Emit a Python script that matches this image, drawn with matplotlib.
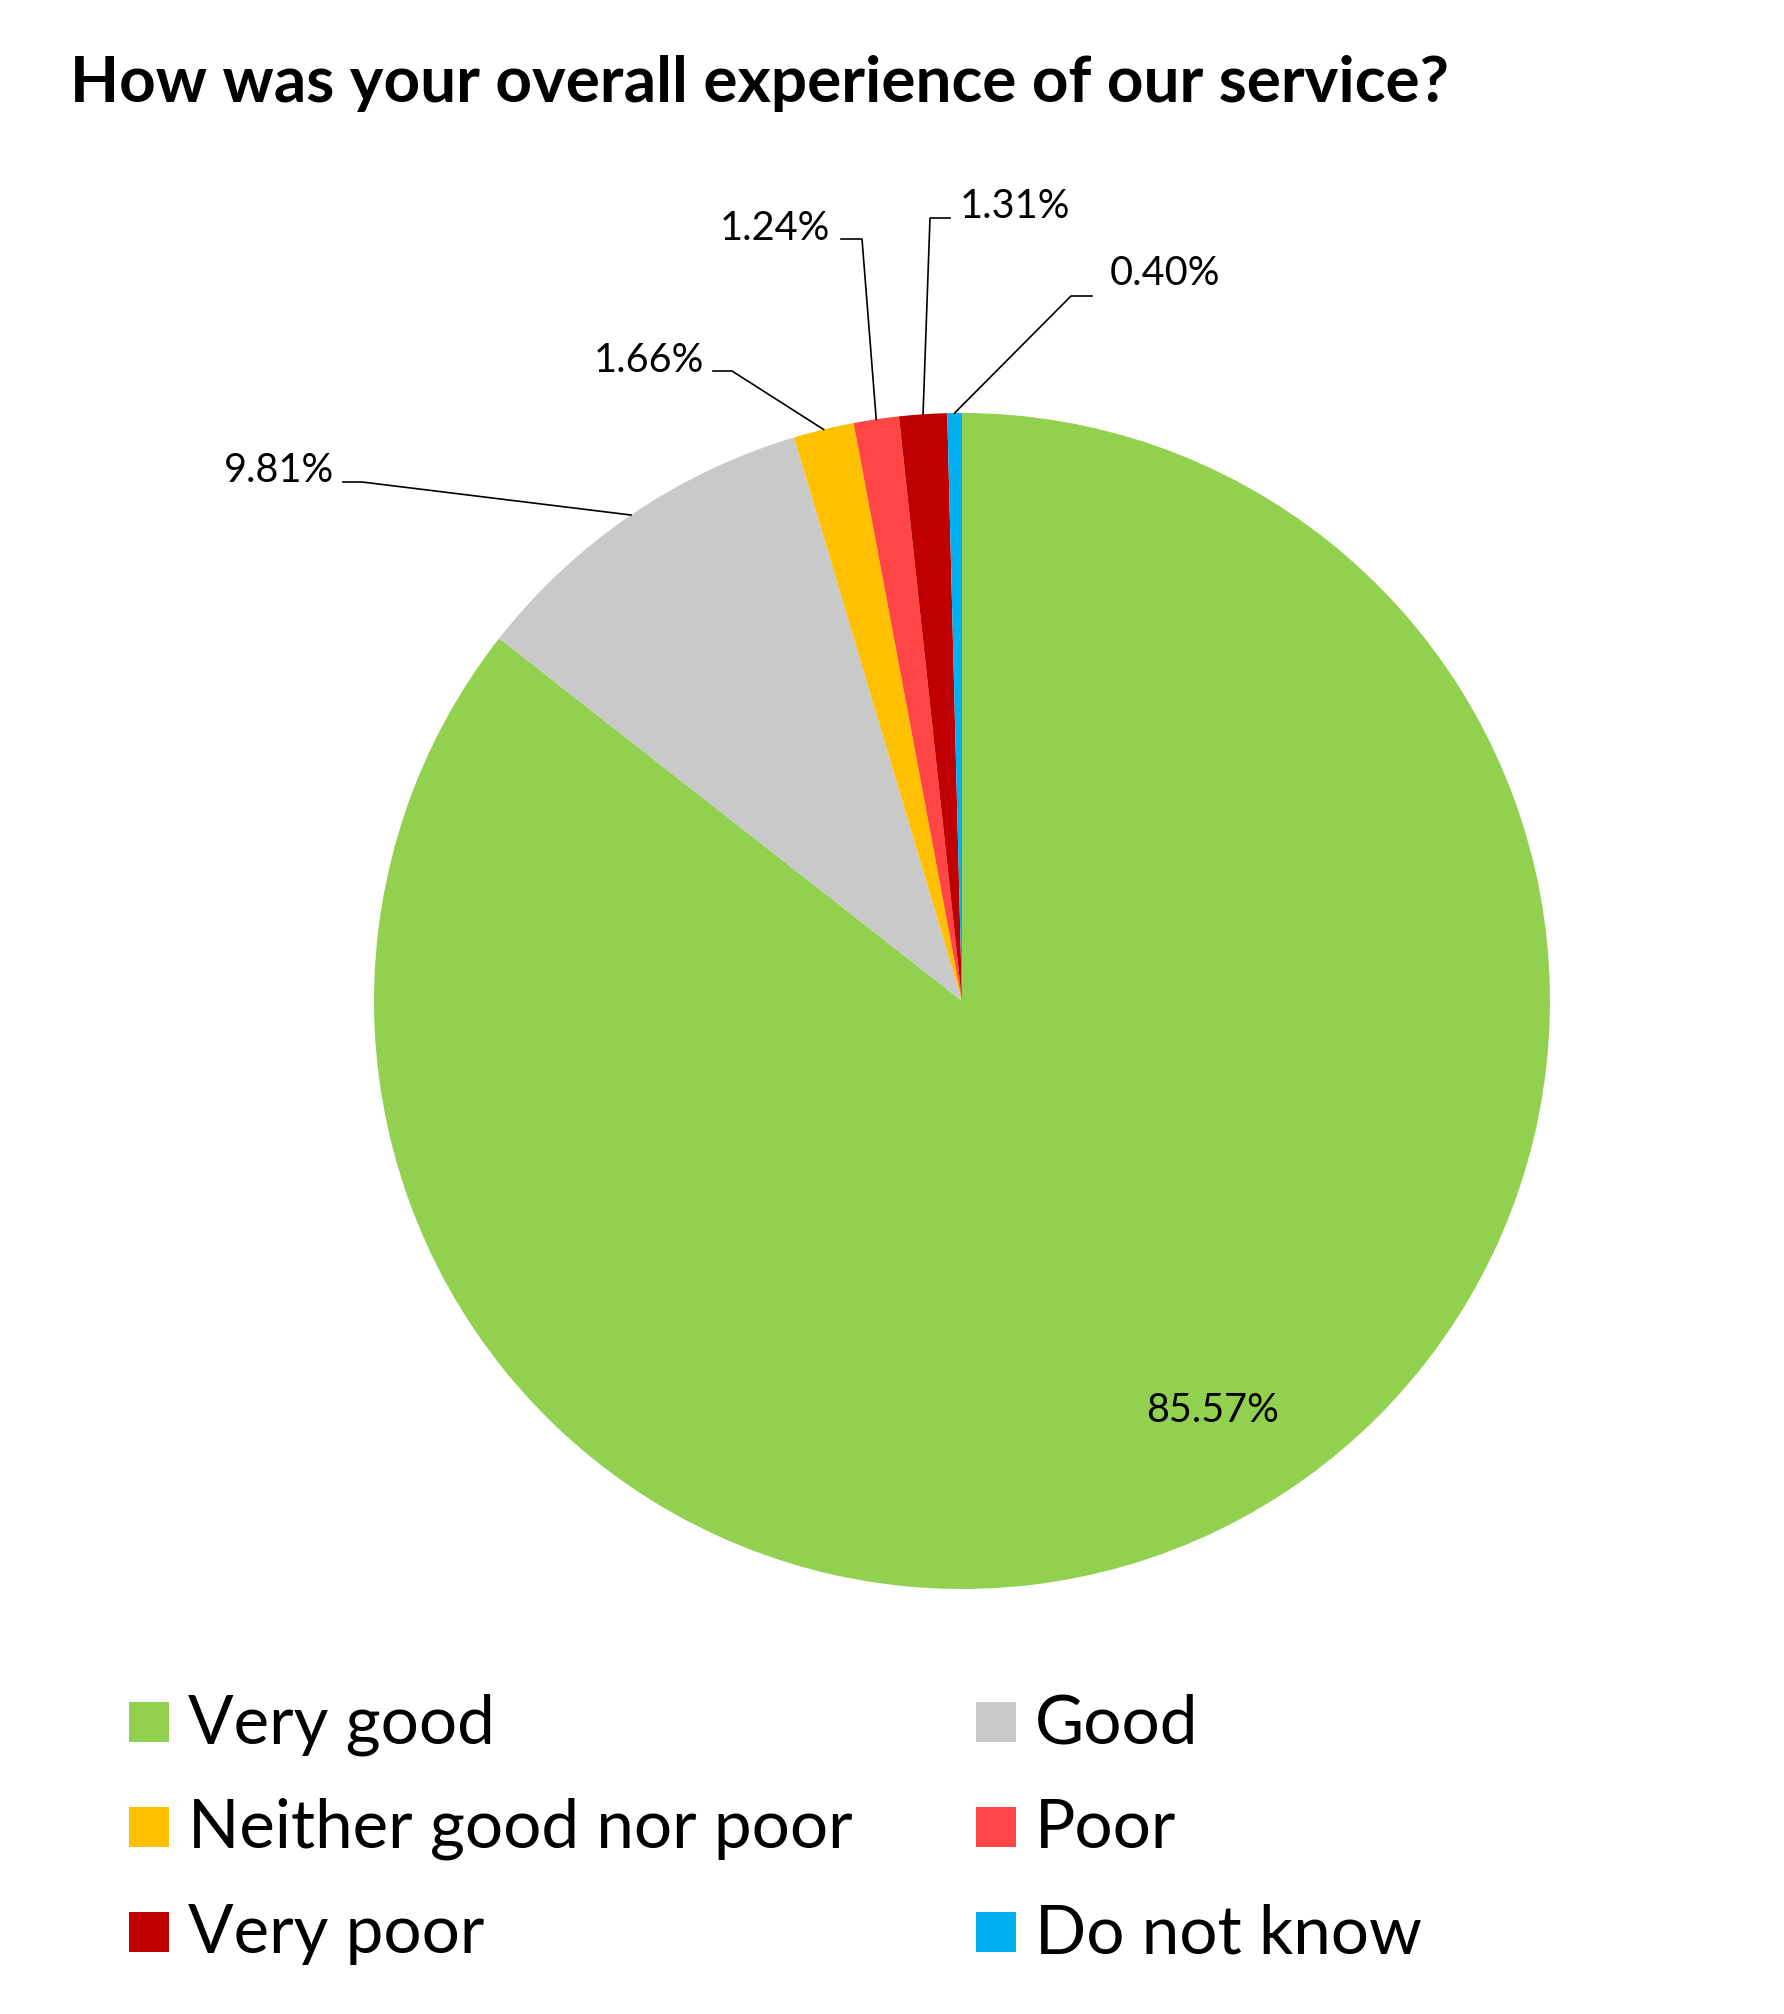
import numpy as np
import matplotlib.pyplot as plt
from matplotlib.patches import Rectangle

plt.rcParams['font.family'] = ['Lato', 'DejaVu Sans']

categories = ['Very good', 'Good', 'Neither good nor poor', 'Poor', 'Very poor', 'Do not know']
shares = [85.57, 9.81, 1.66, 1.24, 1.31, 0.40]
colors = ['#92D050', '#C9C9C9', '#FFC000', '#FF4545', '#C00000', '#00B0F0']
title = 'How was your overall experience of our service?'

W, H = 1784, 2014
fig = plt.figure(figsize=(W / 100, H / 100), dpi=100)
ax = fig.add_axes([0, 0, 1, 1])


def py(y):
    # pixel row (from top) -> data y
    return H - y


cx, cy, r = 962, py(1001), 588
wedges, _ = ax.pie(shares, colors=colors, startangle=90, counterclock=False,
                   center=(cx, cy), radius=r, wedgeprops=dict(linewidth=0))
ax.set_xlim(0, W)
ax.set_ylim(0, H)
ax.set_aspect('equal')
ax.axis('off')

# label for the big slice sits inside
ax.text(1213, py(1411), '%.2f%%' % shares[0], fontsize=28.5, ha='center', va='center')

# outside labels: text x, baseline y, alignment, elbow x, elbow y, end of short horizontal
lab_pos = {
    1: (334, 482, 'right', 362, 482, 343),
    2: (704, 372, 'right', 732, 371, 713),
    3: (830, 240, 'right', 862, 239, 841),
    4: (960, 218, 'left', 930, 218, 950),
    5: (1110, 285, 'left', 1071, 296, 1092),
}
for i, (tx, ty, ha, ex, ey, hx) in lab_pos.items():
    w = wedges[i]
    th = np.radians((w.theta1 + w.theta2) / 2)
    px, pyy = cx + r * np.cos(th), cy + r * np.sin(th)
    ax.plot([px, ex, hx], [pyy, py(ey), py(ey)], color='black', lw=1.2)
    ax.text(tx, py(ty), '%.2f%%' % shares[i], fontsize=28.5, ha=ha, va='baseline')

fig.text(70 / W, py(102) / H, title, fontsize=46, fontweight='bold', va='baseline')

# legend, two columns, row-wise order
for i, (lab, col) in enumerate(zip(categories, colors)):
    row, c = i // 2, i % 2
    x0 = [129, 976][c]
    y0 = 1742 + 105 * row
    ax.add_patch(Rectangle((x0, py(y0)), 40, 40, color=col, lw=0))
    ax.text(x0 + 59, py(y0 + 1), lab, fontsize=48.5, va='baseline', ha='left')

fig.savefig('out.png', dpi=100)
